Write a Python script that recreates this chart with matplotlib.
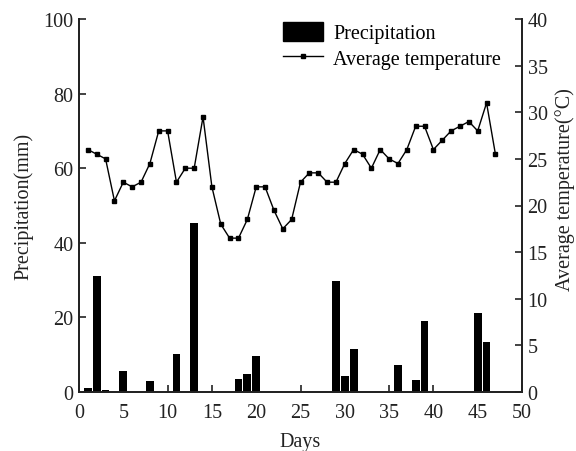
import matplotlib
matplotlib.use("Agg")
import matplotlib.pyplot as plt
from matplotlib.patches import Patch
from matplotlib.lines import Line2D

plt.rcParams['font.family'] = ['Liberation Serif', 'DejaVu Serif']

precip_days = [1, 2, 3, 5, 8, 11, 13, 18, 19, 20, 29, 30, 31, 36, 38, 39, 45, 46]
precip_mm = [1.0, 31.2, 0.6, 5.6, 3.0, 10.1, 45.3, 3.4, 4.8, 9.6, 29.8, 4.4, 11.4, 7.2, 3.1, 19.0, 21.2, 13.3]

temp_days = list(range(1, 48))
temp_c = [26, 25.5, 25, 20.5, 22.5, 22, 22.5, 24.5, 28, 28,
          22.5, 24, 24, 29.5, 22, 18, 16.5, 16.5, 18.5, 22,
          22, 19.5, 17.5, 18.5, 22.5, 23.5, 23.5, 22.5, 22.5, 24.5,
          26, 25.5, 24, 26, 25, 24.5, 26, 28.5, 28.5, 26,
          27, 28, 28.5, 29, 28, 31, 25.5]

x_ticks = [0, 5, 10, 15, 20, 25, 30, 35, 40, 45, 50]
left_ticks = [0, 20, 40, 60, 80, 100]
right_ticks = [0, 5, 10, 15, 20, 25, 30, 35, 40]

fs = 14.5
tc = '#222222'
fig = plt.figure(figsize=(5.76, 4.52), dpi=100)
ax1 = fig.add_axes([79/576, 1 - 393/452, (522-79)/576, (393-20)/452])
ax2 = ax1.twinx()

ax1.bar(precip_days, precip_mm, width=0.87, color='black', zorder=2)
ax2.plot(temp_days, temp_c, color='black', lw=1.0, marker='s', markersize=3.5, zorder=3)

ax1.set_xlim(0, 50)
ax1.set_ylim(0, 100)
ax2.set_ylim(0, 40)
ax1.set_xticks(x_ticks)
ax1.set_yticks(left_ticks)
ax2.set_yticks(right_ticks)

for ax in (ax1, ax2):
    ax.spines['top'].set_visible(False)
    for s in ax.spines.values():
        s.set_linewidth(1.3)
        s.set_color(tc)
ax1.tick_params(axis='both', direction='in', length=5, width=1.2, labelsize=fs, colors=tc)
ax1.tick_params(axis='x', pad=8)
ax1.tick_params(axis='y', pad=4)
ax2.tick_params(axis='y', direction='in', length=5, width=1.2, labelsize=fs, colors=tc, pad=4)

ax1.set_xlabel('Days', fontsize=fs, color=tc, labelpad=7)
ax1.set_ylabel('Precipitation(mm)', fontsize=fs, color=tc, labelpad=7)
ax2.set_ylabel('Average temperature(°C)', fontsize=fs, color=tc, labelpad=5)
ax2.yaxis.label.set_y(0.545)

handles = [Patch(facecolor='black', edgecolor='black'),
           Line2D([], [], color='black', lw=1.0, marker='s', markersize=3.5)]
leg = ax2.legend(handles, ['Precipitation', 'Average temperature'],
                 loc='upper left', bbox_to_anchor=(283/576, 1 - 23/452),
                 bbox_transform=fig.transFigure, frameon=False, fontsize=fs,
                 borderpad=0, borderaxespad=0, handlelength=2.0, handleheight=1.05,
                 handletextpad=0.5, labelspacing=0.25)

fig.savefig('out.png', dpi=100)
